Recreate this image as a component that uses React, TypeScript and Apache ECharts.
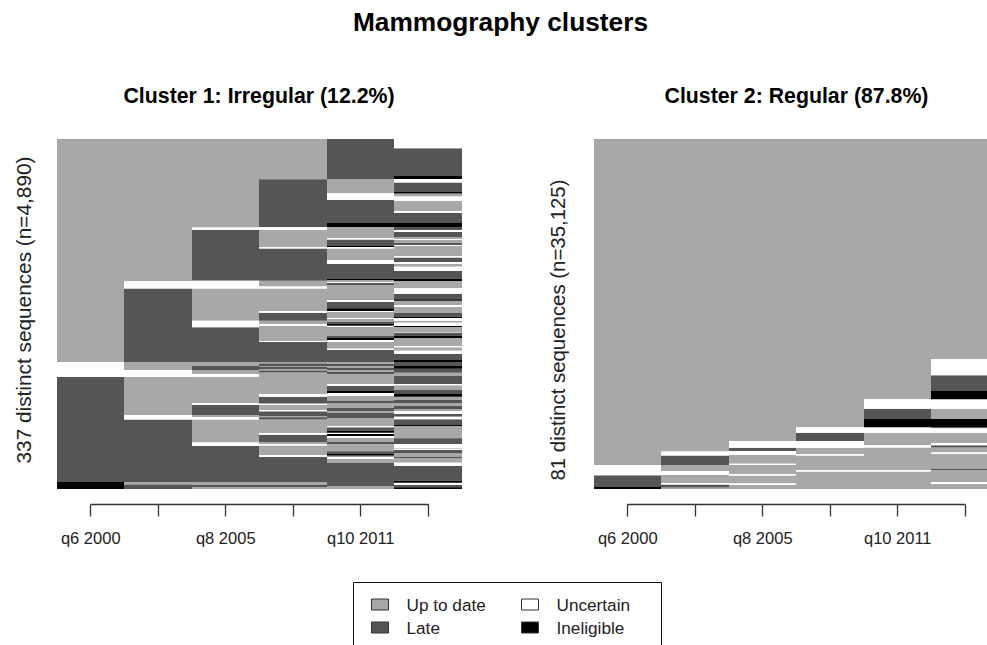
import React, { useEffect, useRef } from "react";
import * as echarts from "echarts";

const U = 0, L = 1, N = 2, I = 3;
const stateNames = ["Up to date", "Late", "Uncertain", "Ineligible"];
const stateColors = ["#A8A8A8", "#555555", "#FFFFFF", "#000000"];
const timeLabels = ["q6 2000", "", "q8 2005", "", "q10 2011", ""];
const TOTAL = 350;

// Each entry: [state, position where this run ends, counted from the top of the panel; full height = 350]
const c1t1 = [[U,223],[N,238],[L,343],[I,350]];
const c1t2 = [[U,142],[N,149.5],[L,223],[U,231],[N,238],[U,276],[N,280.5],[L,343],[U,345.5],[L,350]];
const c1t3 = [[U,88.5],[N,90.7],[L,141.7],[N,149.5],[U,181.7],[N,188.3],[L,223],[U,227],[L,231],[U,235],[N,237.7],[U,264.3],[N,266],[L,276],[U,278],[N,280.5],[U,303.6],[N,307],[L,343],[U,346],[L,348],[U,350]];
const c1t4 = [[U,40.3],[L,88.3],[N,90.7],[U,108.3],[N,109.5],[L,141.7],[U,147.5],[N,149.5],[U,172],[N,173.7],[L,181.7],[U,185],[N,186.7],[U,202],[N,203],[L,223],[U,224.5],[L,227],[U,228],[L,230],[U,231.5],[L,233.5],[U,255],[N,257.7],[L,264],[U,265],[N,266],[U,271],[N,272],[U,273],[L,277],[U,278.3],[L,280.5],[U,294],[N,295.7],[L,303],[U,305],[N,306.5],[U,316],[N,318],[L,343],[U,346],[L,348],[U,350]];
const c1t5 = [[L,40.3],[U,54.3],[N,61],[L,84],[I,88],[U,99],[N,100.5],[L,107],[I,108],[N,109.5],[U,121],[N,125],[L,140],[I,141],[U,143],[N,144],[L,146],[U,161],[N,163],[L,169.3],[I,172],[N,173],[U,179],[N,180],[U,183],[L,185],[I,186],[L,187],[N,188],[U,197],[L,199],[I,201],[N,203],[U,209.7],[N,211],[L,223],[U,225],[L,227],[U,229],[L,231],[U,233],[L,235],[U,245],[N,247],[L,252],[I,254],[N,257],[U,261.7],[L,264.3],[U,269],[L,272],[U,274],[L,279],[U,287],[N,288.3],[L,292],[I,293.7],[N,295],[I,297],[N,299],[U,303],[L,305],[U,312.3],[L,315],[I,316.5],[L,317.7],[N,319.7],[U,323.7],[L,347],[U,350]];
const c1t6 = [[N,9.3],[L,37],[I,40],[N,43.5],[L,53],[I,54.5],[U,57.5],[N,61.7],[U,72],[N,74],[L,84],[I,88],[L,91],[N,93],[L,98],[U,100],[N,101],[U,104],[L,106],[N,107],[U,117],[N,118.5],[L,123],[N,125],[U,127.7],[N,132],[L,139.7],[I,142],[U,149.3],[N,154.7],[L,160.3],[I,161.7],[U,166.3],[N,168],[U,174],[L,177.7],[I,179],[N,181.7],[U,183.7],[N,187],[I,188],[U,193.7],[N,194],[L,197],[I,199],[U,207],[N,208.3],[U,211.7],[N,215],[L,221],[I,223],[L,227],[I,229.7],[L,233.7],[U,237],[L,245],[N,246.3],[U,251],[L,255],[I,257.7],[U,261],[L,264.3],[U,267],[L,270.3],[U,272.3],[N,275],[L,277.7],[N,280.3],[L,286],[I,287],[U,299.3],[L,305],[N,309.3],[U,310],[N,311],[L,314.3],[U,317.7],[L,319],[U,323.7],[N,327],[L,341.7],[I,343.7],[N,346],[L,348.3],[I,350]];

const c2t1 = [[U,326],[N,336.3],[L,348],[I,350]];
const c2t2 = [[U,312.5],[N,316.5],[L,326],[U,332],[N,336],[U,344],[N,345.5],[L,348.5],[U,350]];
const c2t3 = [[U,302],[N,308.7],[L,312],[N,316],[U,324.7],[N,326],[U,335],[N,336.5],[U,344.5],[N,346],[U,350]];
const c2t4 = [[U,288.3],[N,293.7],[L,302],[N,308.7],[U,315],[N,316.5],[U,331],[N,332.5],[U,350]];
const c2t5 = [[U,260.3],[N,269.7],[L,280],[I,288.3],[N,293.7],[U,306],[N,308.5],[U,331],[N,332.5],[U,350]];
const c2t6 = [[U,220.3],[N,236.3],[L,252],[I,260.3],[N,269.7],[U,280],[I,288.3],[L,289.3],[N,293.7],[U,304],[N,306.3],[L,308.5],[U,313.5],[N,315],[U,329.7],[L,331],[U,343.3],[N,345],[U,350]];

const cluster1 = [c1t1, c1t2, c1t3, c1t4, c1t5, c1t6];
const cluster2 = [c2t1, c2t2, c2t3, c2t4, c2t5, c2t6];

const FONT = '"Liberation Sans", Arial, sans-serif';
const TEXT = "#222222";
const AXIS = "#333333";

function panelSeries(columns: number[][][], axisIndex: number) {
  return stateNames.map((name, state) => {
    const data: number[][] = [];
    columns.forEach((runs, col) => {
      let start = 0;
      runs.forEach(([s, end]) => {
        if (s === state) data.push([col, start, end]);
        start = end;
      });
    });
    return {
      type: "custom",
      name,
      xAxisIndex: axisIndex,
      yAxisIndex: axisIndex,
      itemStyle: { color: stateColors[state] },
      encode: { x: 0, y: [1, 2] },
      silent: true,
      data,
      renderItem: (_p: any, api: any) => {
        const a = api.coord([api.value(0), api.value(1)]);
        const b = api.coord([api.value(0), api.value(2)]);
        const w = api.size([1, 0])[0];
        const x0 = Math.floor(a[0] - w / 2);
        const x1 = Math.floor(a[0] + w / 2);
        return {
          type: "rect",
          shape: { x: x0, y: a[1], width: x1 - x0, height: b[1] - a[1] },
          style: { fill: stateColors[state] },
        };
      },
    };
  });
}

// R-style axis: a line that runs only from the first tick to the last, with ticks at each column centre.
function axisSeries(axisIndex: number) {
  const last = timeLabels.length - 1;
  return {
    type: "custom",
    name: "axis",
    xAxisIndex: axisIndex,
    yAxisIndex: axisIndex,
    silent: true,
    encode: { x: 0, y: 1 },
    data: timeLabels.map((_t, i) => [i, TOTAL]),
    renderItem: (_p: any, api: any) => {
      const i = api.value(0);
      const p = api.coord([i, TOTAL]);
      const x = Math.floor(p[0]) + 0.5;
      const y = p[1] + 15.5;
      const style = { stroke: AXIS, lineWidth: 1.3, fill: "none" };
      const children: any[] = [{ type: "line", shape: { x1: x, y1: y, x2: x, y2: y + 12 }, style }];
      if (i < last) {
        const q = api.coord([i + 1, TOTAL]);
        children.push({ type: "line", shape: { x1: x, y1: y, x2: Math.floor(q[0]) + 0.5, y2: y }, style });
      }
      return { type: "group", children };
    },
  };
}

function xAxis(gridIndex: number) {
  return {
    type: "category",
    gridIndex,
    data: timeLabels,
    offset: 15,
    position: "bottom",
    axisLine: { show: false },
    axisTick: { show: false },
    axisLabel: { interval: 0, margin: 25, fontSize: 16.5, color: TEXT, fontFamily: FONT, hideOverlap: false },
    splitLine: { show: false },
  };
}

function yAxis(gridIndex: number) {
  return { type: "value", gridIndex, min: 0, max: TOTAL, inverse: true, show: false };
}

function legendPart(names: number[], left: number) {
  return {
    orient: "vertical",
    left,
    top: 596,
    padding: 0,
    itemWidth: 17,
    itemHeight: 11,
    itemGap: 6,
    selectedMode: false,
    icon: "rect",
    textStyle: { fontSize: 17.2, color: TEXT, fontFamily: FONT, padding: [0, 0, 0, 13] },
    itemStyle: { borderColor: "#333333", borderWidth: 1 },
    data: names.map((i) => ({ name: stateNames[i], icon: "rect", itemStyle: { color: stateColors[i], borderColor: "#333333", borderWidth: 1 } })),
  };
}

function yLabel(text: string, x: number, y: number, fontSize: number) {
  return {
    type: "text",
    x,
    y,
    rotation: Math.PI / 2,
    style: { text, fontSize, fontFamily: FONT, fill: TEXT, textAlign: "center", textVerticalAlign: "middle" },
  };
}

export default function App() {
  const ref = useRef<HTMLDivElement>(null);
  useEffect(() => {
    document.body.style.margin = "0";
    const chart = echarts.init(ref.current!, undefined, { renderer: "svg" });
    chart.setOption({
      animation: false,
      backgroundColor: "#FFFFFF",
      title: [
        { text: "Mammography clusters", left: 500.5, top: 9, padding: 0, textAlign: "center", textStyle: { fontSize: 26.3, fontWeight: "bold", color: "#000", fontFamily: FONT } },
        { text: "Cluster 1: Irregular (12.2%)", left: 259, top: 85, padding: 0, textAlign: "center", textStyle: { fontSize: 21.3, fontWeight: "bold", color: "#000", fontFamily: FONT } },
        { text: "Cluster 2: Regular (87.8%)", left: 796.5, top: 85, padding: 0, textAlign: "center", textStyle: { fontSize: 21.3, fontWeight: "bold", color: "#000", fontFamily: FONT } },
      ],
      grid: [
        { left: 57, top: 139, width: 405, height: 350, outerBoundsMode: "none" },
        { left: 594, top: 139, width: 405, height: 350, outerBoundsMode: "none" },
      ],
      xAxis: [xAxis(0), xAxis(1)],
      yAxis: [yAxis(0), yAxis(1)],
      legend: [legendPart([U, L], 371), legendPart([N, I], 521)],
      series: [...panelSeries(cluster1, 0), axisSeries(0), ...panelSeries(cluster2, 1), axisSeries(1)],
      graphic: [
        yLabel("337 distinct sequences (n=4,890)", 23, 310, 20.8),
        yLabel("81 distinct sequences (n=35,125)", 558, 330, 20.4),
        { type: "rect", shape: { x: 353.5, y: 582.5, width: 308, height: 80 }, style: { fill: "none", stroke: "#111111", lineWidth: 1 } },
      ],
    });
    return () => chart.dispose();
  }, []);
  return <div ref={ref} style={{ width: 987, height: 645 }} />;
}
